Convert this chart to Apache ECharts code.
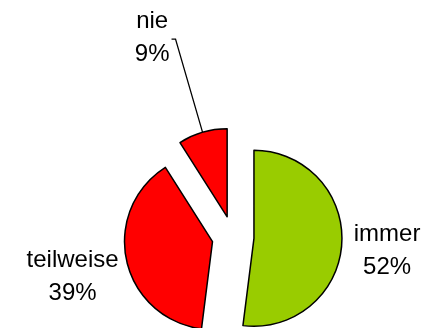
<!DOCTYPE html>
<html>
<head>
<meta charset="utf-8">
<script src="https://cdn.jsdelivr.net/npm/echarts@6/dist/echarts.min.js"></script>
<style>
html,body{margin:0;padding:0;background:#fff;}
#c{width:430px;height:328px;}
</style>
</head>
<body>
<div id="c"></div>
<script>
var categories = ['immer', 'teilweise', 'nie'];
var values = [52, 39, 9];
var colors = ['#99CC00', '#FF0000', '#FF0000'];

// label placement tuning (styles, not data)
var labelTweaks = [
  { length: 0, length2: 7, showLine: false, dist: 5, padding: [14, 0, 0, 0] },
  { length: 0, length2: 3, showLine: false, dist: 5, padding: [33, 0, 0, 0] },
  { length: 97, length2: 4, showLine: true, dist: 2, padding: [0, 0, 2, 0] }
];

var data = categories.map(function (name, i) {
  var t = labelTweaks[i];
  return {
    name: name,
    value: values[i],
    selected: true,
    itemStyle: { color: colors[i] },
    label: { padding: t.padding, distanceToLabelLine: t.dist },
    labelLine: { show: t.showLine, length: t.length, length2: t.length2 }
  };
});

var chart = echarts.init(document.getElementById('c'), null, { renderer: 'canvas' });
chart.setOption({
  animation: false,
  backgroundColor: '#ffffff',
  series: [{
    type: 'pie',
    center: [233, 237],
    radius: 88,
    startAngle: 90,
    clockwise: true,
    selectedMode: 'multiple',
    selectedOffset: 21,
    avoidLabelOverlap: false,
    itemStyle: { borderColor: '#000000', borderWidth: 1.5 },
    emphasis: { disabled: true },
    label: {
      show: true,
      position: 'outside',
      formatter: function (p) { return '{t|' + p.name + '}\n{t|' + p.value + '%}'; },
      rich: {
        t: { fontFamily: 'Liberation Sans, Arial, sans-serif', fontSize: 24, lineHeight: 33, color: '#000000', align: 'center' }
      }
    },
    labelLine: {
      lineStyle: { color: '#000000', width: 1.3 },
      smooth: false
    },
    data: data
  }]
});
</script>
</body>
</html>
